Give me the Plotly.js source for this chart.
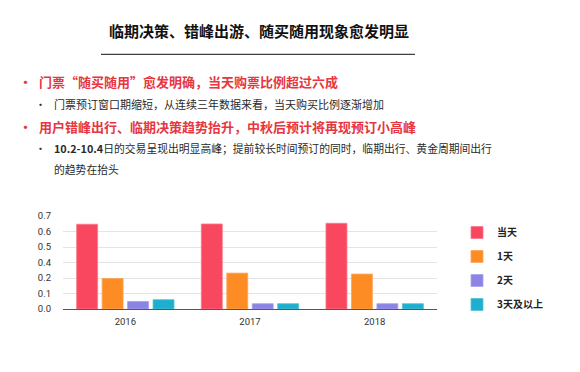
<!DOCTYPE html>
<html>
<head>
<meta charset="utf-8">
<script src="https://cdn.plot.ly/plotly-3.0.1.min.js"></script>
<style>html,body{margin:0;padding:0;background:#fff;}#chart{width:580px;height:372px;}</style>
</head>
<body>
<div id="chart"></div>
<script>
const years = ['2016', '2017', '2018'];
const seriesNames = ['当天', '1天', '2天', '3天及以上'];
const sameDay = [0.638, 0.640, 0.645];
const oneDay = [0.230, 0.270, 0.263];
const twoDays = [0.057, 0.040, 0.040];
const threePlus = [0.070, 0.040, 0.040];
const yTickVals = [0, 0.1167, 0.2333, 0.35, 0.4667, 0.5833, 0.7];
const yTickText = ['0.0', '0.1', '0.2', '0.4', '0.5', '0.6', '0.7'];

const titleText = '临期决策、错峰出游、随买随用现象愈发明显';
const bullet1 = '门票“随买随用”愈发明确，当天购票比例超过六成';
const sub1 = '门票预订窗口期缩短，从连续三年数据来看，当天购买比例逐渐增加';
const bullet2 = '用户错峰出行、临期决策趋势抬升，中秋后预计将再现预订小高峰';
const sub2a = '<b>10.2-10.4</b>日的交易呈现出明显高峰；提前较长时间预订的同时，临期出行、黄金周期间出行';
const sub2b = '的趋势在抬头';

const colors = ['#F8475E', '#FD8C25', '#8C84E4', '#1EAECE'];
const lineColors = ['#FB7A8A', '#FDA55A', '#A9A3EC', '#55C2DA'];
const allSeries = [sameDay, oneDay, twoDays, threePlus];

const CJK = '"Noto Sans CJK SC", "Noto Sans", sans-serif';

const traces = allSeries.map((vals, i) => ({
  type: 'bar',
  name: seriesNames[i],
  x: years,
  y: vals,
  legendgroup: 'g' + i,
  marker: {color: colors[i], line: {color: lineColors[i], width: 0.8}},
  hoverinfo: 'none'
}));

// pixel -> paper helpers (plot area: left 63, width 374, bottom 309, height 93)
const L = 63, W = 374, B = 309, H = 93;
const px = X => (X - L) / W;
const py = Y => (B - Y) / H;

const red = '#E7363F';
const dark = '#2a2a2a';

function ann(text, X, Y, size, color, anchor, bold) {
  return {
    text: bold ? '<b>' + text + '</b>' : text,
    xref: 'paper', yref: 'paper', x: px(X), y: py(Y),
    xanchor: anchor, yanchor: 'middle', showarrow: false,
    font: {family: CJK, size: size, color: color}
  };
}

const layout = {
  width: 580, height: 372,
  margin: {l: L, r: 580 - L - W, t: 216, b: 372 - B},
  paper_bgcolor: '#ffffff', plot_bgcolor: '#ffffff',
  barmode: 'group', bargap: 0.183, bargroupgap: 0.176,
  showlegend: true,
  legend: {
    x: px(457), y: py(218), xanchor: 'left', yanchor: 'top',
    traceorder: 'grouped', tracegroupgap: 5,
    font: {family: CJK, size: 10, color: '#222', weight: 'bold'},
    bgcolor: 'rgba(0,0,0,0)'
  },
  xaxis: {
    type: 'category', showgrid: false, showline: true, linecolor: '#555', linewidth: 1,
    ticks: '', ticklabelstandoff: 4,
    tickfont: {family: 'Roboto, "Noto Sans", sans-serif', size: 9.5, color: '#333'}
  },
  yaxis: {
    range: [0, 0.7], tickvals: yTickVals, ticktext: yTickText,
    showgrid: true, gridcolor: '#e4e4e4', gridwidth: 1, zeroline: false, showline: false,
    ticks: '', ticklabelstandoff: 11,
    tickfont: {family: 'Roboto, "Noto Sans", sans-serif', size: 9.5, color: '#333'}
  },
  annotations: [
    ann(titleText, 258.5, 30, 15, '#111', 'center', true),
    ann('•', 25, 81.7, 13, red, 'center', true),
    ann(bullet1, 37.3, 81.7, 13, red, 'left', true),
    ann('•', 40, 104.3, 11, dark, 'center', false),
    ann(sub1, 52.3, 104.3, 11, dark, 'left', false),
    ann('•', 25, 126.7, 13, red, 'center', true),
    ann(bullet2, 37.3, 126.7, 13, red, 'left', true),
    ann('•', 40, 147.7, 11, dark, 'center', false),
    ann(sub2a, 52.3, 147.7, 10.8, dark, 'left', false),
    ann(sub2b, 52.3, 169, 10.8, dark, 'left', false)
  ],
  shapes: [{
    type: 'line', xref: 'paper', yref: 'paper',
    x0: px(101), x1: px(415), y0: py(54.3), y1: py(54.3),
    line: {color: '#111', width: 1}
  }]
};

Plotly.newPlot('chart', traces, layout, {displayModeBar: false, staticPlot: true});
</script>
</body>
</html>
